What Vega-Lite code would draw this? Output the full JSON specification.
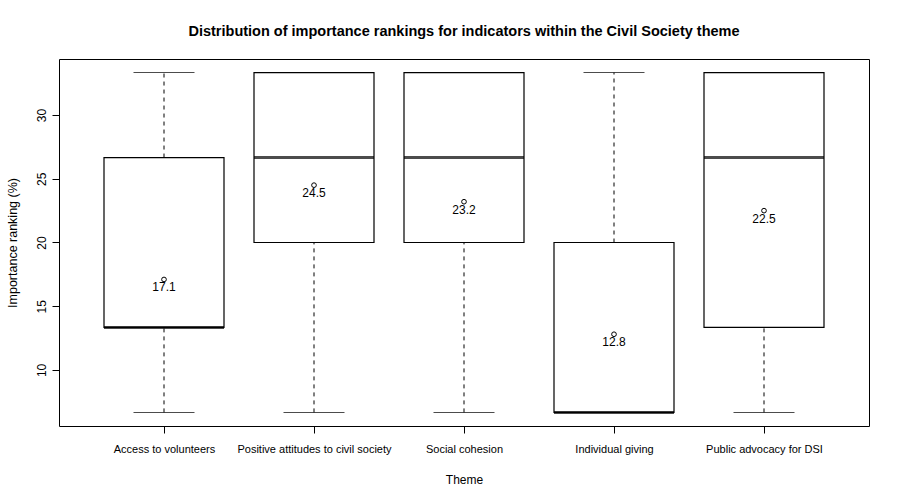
{
  "$schema": "https://vega.github.io/schema/vega-lite/v6.json",
  "autosize": "none",
  "width": 810,
  "height": 367,
  "padding": {"left": 59, "top": 59, "right": 31, "bottom": 74},
  "background": "white",
  "title": {
    "text": "Distribution of importance rankings for indicators within the Civil Society theme",
    "font": "Liberation Sans",
    "fontSize": 14.5,
    "fontWeight": "bold",
    "color": "black",
    "offset": 20
  },
  "data": {
    "values": [
      {"idx": 1, "theme": "Access to volunteers", "lo": 6.667, "q1": 13.333, "median": 13.333, "q3": 26.667, "hi": 33.333, "mean": 17.1},
      {"idx": 2, "theme": "Positive attitudes to civil society", "lo": 6.667, "q1": 20, "median": 26.667, "q3": 33.333, "hi": 33.333, "mean": 24.5},
      {"idx": 3, "theme": "Social cohesion", "lo": 6.667, "q1": 20, "median": 26.667, "q3": 33.333, "hi": 33.333, "mean": 23.2},
      {"idx": 4, "theme": "Individual giving", "lo": 6.667, "q1": 6.667, "median": 6.667, "q3": 20, "hi": 33.333, "mean": 12.8},
      {"idx": 5, "theme": "Public advocacy for DSI", "lo": 6.667, "q1": 13.333, "median": 26.667, "q3": 33.333, "hi": 33.333, "mean": 22.5}
    ]
  },
  "encoding": {
    "x": {
      "field": "idx",
      "type": "quantitative",
      "scale": {"domain": [0.3, 5.7], "nice": false, "zero": false, "padding": 0},
      "axis": {
        "title": "Theme",
        "values": [1, 2, 3, 4, 5],
        "labelExpr": "['', 'Access to volunteers', 'Positive attitudes to civil society', 'Social cohesion', 'Individual giving', 'Public advocacy for DSI'][datum.value]",
        "grid": false,
        "domain": false,
        "tickSize": 7,
        "tickColor": "black",
        "labelFont": "Liberation Sans",
        "labelFontSize": 11,
        "labelColor": "black",
        "labelPadding": 10,
        "titleFont": "Liberation Sans",
        "titleFontSize": 12,
        "titleFontWeight": "normal",
        "titleColor": "black",
        "titlePadding": 20
      }
    }
  },
  "layer": [
    {
      "mark": {"type": "rule", "stroke": "black", "strokeDash": [4, 4], "strokeWidth": 1},
      "encoding": {
        "y": {
          "field": "lo",
          "type": "quantitative",
          "scale": {"domain": [5.6, 34.4], "nice": false, "zero": false},
          "axis": {
            "title": "Importance ranking (%)",
            "values": [10, 15, 20, 25, 30],
            "grid": false,
            "domain": false,
            "tickSize": 7,
            "tickColor": "black",
            "labelAngle": -90,
            "labelAlign": "center",
            "labelBaseline": "bottom",
            "labelFont": "Liberation Sans",
            "labelFontSize": 12,
            "labelColor": "black",
            "labelPadding": 4,
            "titleFont": "Liberation Sans",
            "titleFontSize": 12.5,
            "titleFontWeight": "normal",
            "titleColor": "black",
            "titlePadding": 16
          }
        },
        "y2": {"field": "q1"}
      }
    },
    {
      "mark": {"type": "rule", "stroke": "black", "strokeDash": [4, 4], "strokeWidth": 1},
      "encoding": {
        "y": {"field": "q3", "type": "quantitative"},
        "y2": {"field": "hi"}
      }
    },
    {
      "mark": {"type": "tick", "orient": "horizontal", "size": 61, "thickness": 1, "color": "black"},
      "encoding": {"y": {"field": "lo", "type": "quantitative"}}
    },
    {
      "mark": {"type": "tick", "orient": "horizontal", "size": 61, "thickness": 1, "color": "black"},
      "encoding": {"y": {"field": "hi", "type": "quantitative"}}
    },
    {
      "mark": {"type": "bar", "size": 120, "fill": "white", "stroke": "black", "strokeWidth": 1.2},
      "encoding": {
        "y": {"field": "q1", "type": "quantitative"},
        "y2": {"field": "q3"}
      }
    },
    {
      "mark": {"type": "tick", "orient": "horizontal", "size": 120, "thickness": 3, "color": "black"},
      "encoding": {"y": {"field": "median", "type": "quantitative"}}
    },
    {
      "mark": {"type": "point", "shape": "circle", "size": 22, "filled": false, "stroke": "black", "strokeWidth": 1, "opacity": 1},
      "encoding": {"y": {"field": "mean", "type": "quantitative"}}
    },
    {
      "mark": {"type": "text", "font": "Liberation Sans", "fontSize": 12, "color": "black", "dy": 8, "baseline": "middle", "align": "center"},
      "encoding": {
        "y": {"field": "mean", "type": "quantitative"},
        "text": {"field": "mean", "type": "quantitative", "format": ".1f"}
      }
    }
  ],
  "config": {
    "view": {"stroke": "black", "strokeWidth": 1}
  }
}
